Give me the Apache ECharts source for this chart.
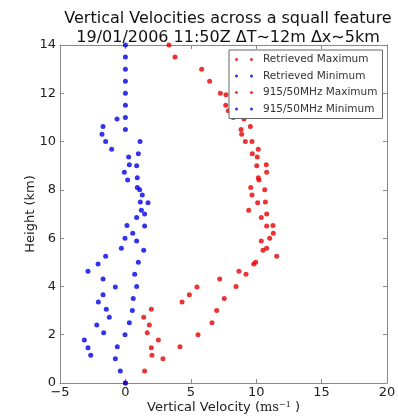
<!DOCTYPE html>
<html><head><meta charset="utf-8">
<script src="https://cdn.jsdelivr.net/npm/echarts@6/dist/echarts.min.js"></script>
<style>html,body{margin:0;padding:0;background:#fff}#c{width:398px;height:417px}</style>
</head><body><div id="c"></div>
<script>
var retHeights = [0,0.5,1,1.5,2,2.5,3,3.5,4,4.5,5,5.5,6,6.5,7,7.5,8,8.5,9,9.5,10,10.5,11,11.5,12,12.5,13,13.5,14];
var retMax = [0,1.47,2.87,4.17,5.55,6.62,6.98,7.56,8.46,9.22,9.96,10.52,11.03,10.80,10.80,10.70,10.65,10.16,10.04,9.70,9.68,8.84,8.25,7.67,7.26,6.44,5.83,3.79,3.33];
var retMin = [0,-0.39,-0.77,-0.62,-0.03,0.30,0.53,0.60,0.86,0.71,0.99,1.40,-0.03,1.47,1.47,1.14,1.09,0.91,0.86,0.99,1.12,0,0,0,0,0,0,0,0];
var profMaxHeights = [1.15,1.46,1.78,2.08,2.40,2.72,3.05,3.36,3.66,3.98,4.31,4.63,4.93,5.25,5.58,5.88,6.20,6.52,6.85,7.16,7.47,7.79,8.10,8.41,8.73,9.04,9.36,9.68,10.00,10.30,10.62,10.93,11.28,11.94];
var profMax = [2.03,1.98,2.52,1.67,1.83,1.40,1.98,4.33,4.89,5.47,7.21,8.68,9.81,11.57,10.80,10.39,11.31,11.28,10.39,9.43,10.11,9.68,9.58,10.21,10.80,10.77,10.08,10.16,9.17,8.89,9.55,9.07,7.87,7.69];
var profMinHeights = [1.15,1.46,1.78,2.08,2.40,2.72,3.05,3.36,3.66,3.98,4.31,4.63,4.93,5.25,5.58,5.88,6.20,6.52,6.85,7.16,7.47,7.79,8.10,8.41,8.73,9.04,9.36,9.68,10.00,10.30,10.62,10.93];
var profMin = [-2.65,-2.86,-3.14,-1.66,-2.19,-1.23,-1.46,-2.07,-1.71,-0.77,-1.71,-2.86,-2.09,-1.51,-0.31,0.86,0.56,0.12,0.86,1.22,1.73,1.29,0.91,0.17,-0.08,0.30,0.25,-1.05,-1.51,-1.79,-1.71,-0.64];
var seriesNames = ['Retrieved Maximum','Retrieved Minimum','915/50MHz Maximum','915/50MHz Minimum'];
var xTicks = [-5,0,5,10,15,20];
var yTicks = [0,2,4,6,8,10,12,14];

function pairs(xs, hs){ return xs.map(function(v,i){ return [v, hs[i]]; }); }
var RED = '#e60000', BLUE = '#0000e6';
var FONT = 'DejaVu Sans';
var icon2 = 'path://M0,1.5a1.5,1.5 0 1,0 3,0a1.5,1.5 0 1,0 -3,0M15,1.5a1.5,1.5 0 1,0 3,0a1.5,1.5 0 1,0 -3,0';
function fmt(v){ return v < 0 ? '\u2212' + Math.abs(v) : String(v); }

var chart = echarts.init(document.getElementById('c'), null, {renderer:'canvas'});
var axisLine = {show:true, onZero:false, lineStyle:{color:'#888', width:1}};
var tick = {show:true, inside:true, length:4, lineStyle:{color:'#888'}};
chart.setOption({
  animation:false,
  backgroundColor:'#fff',
  title:{
    text:'Vertical Velocities across a squall feature\n19/01/2006 11:50Z \u0394T\u223c12m \u0394x\u223c5km',
    left:223, textAlign:'center', top:4,
    textStyle:{fontFamily:FONT, fontSize:16, fontWeight:'normal', color:'#111', lineHeight:19}
  },
  legend:{
    data:seriesNames.map(function(n){return {name:n, icon:icon2};}),
    orient:'vertical', left:229, top:50,
    itemWidth:18, itemHeight:3, itemGap:3.5,
    padding:[3,5,3,6],
    borderColor:'#666', borderWidth:1, backgroundColor:'#fff',
    textStyle:{fontFamily:FONT, fontSize:10.5, color:'#333', padding:[0,0,0,5], lineHeight:13}
  },
  grid:{left:60, right:11, top:45, bottom:34, containLabel:false, outerBoundsMode:'none'},
  xAxis:[{
    type:'value', min:-5, max:20, interval:5,
    axisLine:axisLine, axisTick:tick, splitLine:{show:false},
    axisLabel:{fontFamily:FONT, fontSize:13, color:'#222', margin:3, formatter:fmt},
    name:'{a|Vertical Velocity (}{m|ms}{s|\u22121}{a| )}', nameLocation:'middle', nameGap:18,
    nameMoveOverlap:false,
    nameTextStyle:{rich:{
      a:{fontFamily:FONT, fontSize:13, color:'#222'},
      m:{fontFamily:'DejaVu Serif', fontSize:13, color:'#222'},
      s:{fontFamily:'DejaVu Serif', fontSize:8, color:'#222', verticalAlign:'top', padding:[0,0,6,0]}
    }}
  },{
    type:'value', position:'top', min:-5, max:20, interval:5,
    axisLine:axisLine, axisTick:tick, axisLabel:{show:false}, splitLine:{show:false}
  }],
  yAxis:[{
    type:'value', min:0, max:14, interval:2,
    axisLine:axisLine, axisTick:tick, splitLine:{show:false},
    axisLabel:{fontFamily:FONT, fontSize:13, color:'#222', margin:4, formatter:fmt},
    name:'Height (km)', nameLocation:'middle', nameGap:23,
    nameMoveOverlap:false,
    nameTextStyle:{fontFamily:FONT, fontSize:13, color:'#222'}
  },{
    type:'value', position:'right', min:0, max:14, interval:2,
    axisLine:axisLine, axisTick:tick, axisLabel:{show:false}, splitLine:{show:false}
  }],
  series:[
    {name:seriesNames[0], type:'scatter', symbol:'circle', symbolSize:5, itemStyle:{color:RED}, data:pairs(retMax, retHeights)},
    {name:seriesNames[1], type:'scatter', symbol:'circle', symbolSize:5, itemStyle:{color:BLUE}, data:pairs(retMin, retHeights)},
    {name:seriesNames[2], type:'scatter', symbol:'circle', symbolSize:5, itemStyle:{color:RED}, data:pairs(profMax, profMaxHeights)},
    {name:seriesNames[3], type:'scatter', symbol:'circle', symbolSize:5, itemStyle:{color:BLUE}, data:pairs(profMin, profMinHeights)}
  ]
});
</script></body></html>
